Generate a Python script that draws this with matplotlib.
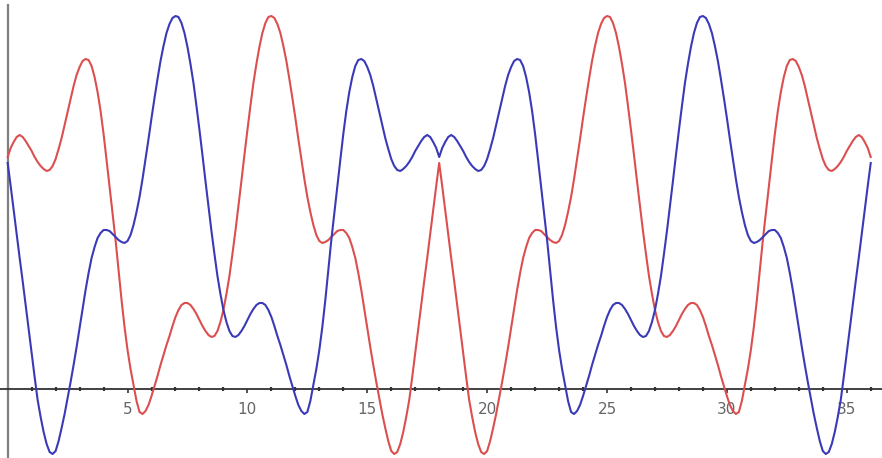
import numpy as np
import matplotlib
matplotlib.use('Agg')
import matplotlib.pyplot as plt
from matplotlib.ticker import MultipleLocator

# readings taken every 0.125 along x, from 0 to 36
x_values = np.arange(289) * 0.125

red_values = [
    2.32, 2.41, 2.47, 2.52, 2.54, 2.52, 2.48, 2.43,
    2.38, 2.32, 2.27, 2.23, 2.20, 2.18, 2.19, 2.23,
    2.30, 2.40, 2.51, 2.64, 2.77, 2.90, 3.03, 3.14,
    3.22, 3.28, 3.30, 3.29, 3.23, 3.12, 2.97, 2.78,
    2.55, 2.29, 2.02, 1.76, 1.49, 1.19, 0.89, 0.62,
    0.39, 0.20, 0.04, -0.12, -0.23, -0.25, -0.22, -0.16,
    -0.07, 0.03, 0.13, 0.24, 0.34, 0.44, 0.53, 0.63,
    0.72, 0.79, 0.84, 0.86, 0.86, 0.84, 0.80, 0.75,
    0.69, 0.63, 0.58, 0.54, 0.52, 0.53, 0.58, 0.67,
    0.79, 0.95, 1.13, 1.35, 1.58, 1.83, 2.08, 2.34,
    2.59, 2.83, 3.06, 3.25, 3.42, 3.56, 3.66, 3.72,
    3.73, 3.71, 3.65, 3.56, 3.43, 3.28, 3.10, 2.91,
    2.71, 2.50, 2.30, 2.10, 1.92, 1.77, 1.64, 1.54,
    1.48, 1.46, 1.47, 1.49, 1.52, 1.55, 1.58, 1.59,
    1.59, 1.56, 1.51, 1.42, 1.31, 1.16, 0.99, 0.80,
    0.61, 0.42, 0.24, 0.07, -0.09, -0.25, -0.39, -0.52,
    -0.62, -0.65, -0.63, -0.55, -0.43, -0.28, -0.11, 0.12,
    0.36, 0.60, 0.84, 1.08, 1.31, 1.55, 1.79, 2.03,
    2.26,
    2.03, 1.79, 1.55, 1.31, 1.08, 0.84, 0.60, 0.36,
    0.12, -0.11, -0.28, -0.43, -0.55, -0.63, -0.65, -0.62,
    -0.52, -0.39, -0.25, -0.09, 0.07, 0.24, 0.42, 0.61,
    0.80, 0.99, 1.16, 1.31, 1.42, 1.51, 1.56, 1.59,
    1.59, 1.58, 1.55, 1.52, 1.49, 1.47, 1.46, 1.48,
    1.54, 1.64, 1.77, 1.92, 2.10, 2.30, 2.50, 2.71,
    2.91, 3.10, 3.28, 3.43, 3.56, 3.65, 3.71, 3.73,
    3.72, 3.66, 3.56, 3.42, 3.25, 3.06, 2.83, 2.59,
    2.34, 2.08, 1.83, 1.58, 1.35, 1.13, 0.95, 0.79,
    0.67, 0.58, 0.53, 0.52, 0.54, 0.58, 0.63, 0.69,
    0.75, 0.80, 0.84, 0.86, 0.86, 0.84, 0.79, 0.72,
    0.63, 0.53, 0.44, 0.34, 0.24, 0.13, 0.03, -0.07,
    -0.16, -0.22, -0.25, -0.23, -0.12, 0.04, 0.20, 0.39,
    0.62, 0.89, 1.19, 1.49, 1.76, 2.02, 2.29, 2.55,
    2.78, 2.97, 3.12, 3.23, 3.29, 3.30, 3.28, 3.22,
    3.14, 3.03, 2.90, 2.77, 2.64, 2.51, 2.40, 2.30,
    2.23, 2.19, 2.18, 2.20, 2.23, 2.27, 2.32, 2.38,
    2.43, 2.48, 2.52, 2.54, 2.52, 2.47, 2.41, 2.32,
]

blue_values = [
    2.26,
    2.03, 1.79, 1.55, 1.31, 1.08, 0.84, 0.60, 0.36,
    0.12, -0.11, -0.28, -0.43, -0.55, -0.63, -0.65, -0.62,
    -0.52, -0.39, -0.25, -0.09, 0.07, 0.24, 0.42, 0.61,
    0.80, 0.99, 1.16, 1.31, 1.42, 1.51, 1.56, 1.59,
    1.59, 1.58, 1.55, 1.52, 1.49, 1.47, 1.46, 1.48,
    1.54, 1.64, 1.77, 1.92, 2.10, 2.30, 2.50, 2.71,
    2.91, 3.10, 3.28, 3.43, 3.56, 3.65, 3.71, 3.73,
    3.72, 3.66, 3.56, 3.42, 3.25, 3.06, 2.83, 2.59,
    2.34, 2.08, 1.83, 1.58, 1.35, 1.13, 0.95, 0.79,
    0.67, 0.58, 0.53, 0.52, 0.54, 0.58, 0.63, 0.69,
    0.75, 0.80, 0.84, 0.86, 0.86, 0.84, 0.79, 0.72,
    0.63, 0.53, 0.44, 0.34, 0.24, 0.13, 0.03, -0.07,
    -0.16, -0.22, -0.25, -0.23, -0.12, 0.04, 0.20, 0.39,
    0.62, 0.89, 1.19, 1.49, 1.76, 2.02, 2.29, 2.55,
    2.78, 2.97, 3.12, 3.23, 3.29, 3.30, 3.28, 3.22,
    3.14, 3.03, 2.90, 2.77, 2.64, 2.51, 2.40, 2.30,
    2.23, 2.19, 2.18, 2.20, 2.23, 2.27, 2.32, 2.38,
    2.43, 2.48, 2.52, 2.54, 2.52, 2.47, 2.41, 2.32,
    2.41, 2.47, 2.52, 2.54, 2.52, 2.48, 2.43,
    2.38, 2.32, 2.27, 2.23, 2.20, 2.18, 2.19, 2.23,
    2.30, 2.40, 2.51, 2.64, 2.77, 2.90, 3.03, 3.14,
    3.22, 3.28, 3.30, 3.29, 3.23, 3.12, 2.97, 2.78,
    2.55, 2.29, 2.02, 1.76, 1.49, 1.19, 0.89, 0.62,
    0.39, 0.20, 0.04, -0.12, -0.23, -0.25, -0.22, -0.16,
    -0.07, 0.03, 0.13, 0.24, 0.34, 0.44, 0.53, 0.63,
    0.72, 0.79, 0.84, 0.86, 0.86, 0.84, 0.80, 0.75,
    0.69, 0.63, 0.58, 0.54, 0.52, 0.53, 0.58, 0.67,
    0.79, 0.95, 1.13, 1.35, 1.58, 1.83, 2.08, 2.34,
    2.59, 2.83, 3.06, 3.25, 3.42, 3.56, 3.66, 3.72,
    3.73, 3.71, 3.65, 3.56, 3.43, 3.28, 3.10, 2.91,
    2.71, 2.50, 2.30, 2.10, 1.92, 1.77, 1.64, 1.54,
    1.48, 1.46, 1.47, 1.49, 1.52, 1.55, 1.58, 1.59,
    1.59, 1.56, 1.51, 1.42, 1.31, 1.16, 0.99, 0.80,
    0.61, 0.42, 0.24, 0.07, -0.09, -0.25, -0.39, -0.52,
    -0.62, -0.65, -0.63, -0.55, -0.43, -0.28, -0.11, 0.12,
    0.36, 0.60, 0.84, 1.08, 1.31, 1.55, 1.79, 2.03,
    2.26,
]

x_ticks = [5, 10, 15, 20, 25, 30, 35]
x_tick_labels = ['5', '10', '15', '20', '25', '30', '35']

fig = plt.figure(figsize=(8.82, 4.58), dpi=100)
ax = fig.add_axes([0, 0, 1, 1])

ax.plot(x_values, red_values, color='#dc4f4f', lw=1.5, zorder=3)
ax.plot(x_values, blue_values, color='#3a3ab8', lw=1.5, zorder=3)

ax.set_xlim(-0.32, 36.47)
ax.set_ylim(-0.69, 3.89)

# axes cross at the origin
ax.spines['left'].set_position(('data', 0))
ax.spines['bottom'].set_position(('data', 0))
ax.spines['top'].set_visible(False)
ax.spines['right'].set_visible(False)
ax.spines['left'].set_color('#808080')
ax.spines['left'].set_linewidth(1.6)
ax.spines['left'].set_bounds(-0.69, 3.84)
ax.spines['bottom'].set_color('#333333')
ax.spines['bottom'].set_linewidth(1.3)

ax.set_xticks(x_ticks)
ax.set_xticklabels(x_tick_labels)
ax.xaxis.set_minor_locator(MultipleLocator(1))
ax.tick_params(axis='x', which='major', direction='out', length=3, width=1.2,
               color='#333333', labelsize=11, labelcolor='#666666', pad=6)
ax.tick_params(axis='x', which='minor', direction='inout', length=3, width=1.6,
               color='#333333')
ax.set_yticks([])

fig.savefig('out.png', dpi=100)
